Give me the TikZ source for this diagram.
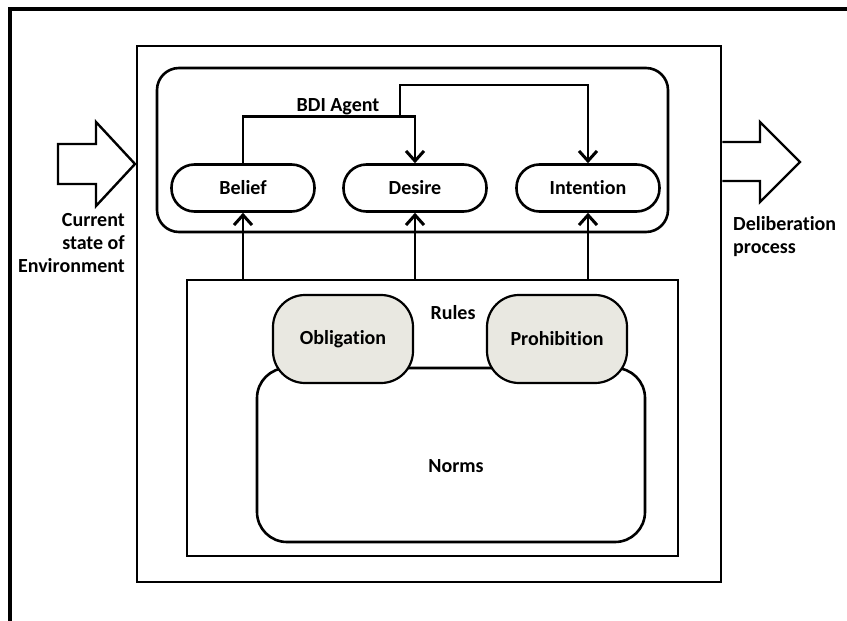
\documentclass[tikz,border=0pt]{standalone}
\usepackage{fontspec}
\setmainfont{Carlito}[Ligatures=NoCommon]
\usetikzlibrary{arrows.meta}
\begin{document}
\begin{tikzpicture}[x=1pt,y=-1pt,
  txt/.style={font=\bfseries\fontsize{20}{23}\selectfont, inner sep=0pt},
  frame/.style={draw, line width=2.8pt, inner sep=0pt},
  pill/.style={draw, line width=2.6pt, rounded corners=23pt, minimum width=143pt, minimum height=47pt, inner sep=0pt, font=\bfseries\fontsize{20}{23}\selectfont},
  rulebox/.style={draw, line width=2.2pt, rounded corners=32pt, fill=rulefill, minimum width=140pt, minimum height=88pt, inner sep=0pt, font=\bfseries\fontsize{20}{23}\selectfont},
  arr/.style={line width=2.8pt, -{Straight Barb[length=10pt,width=18pt,line width=3pt]}},
  block/.style={draw, line width=2.4pt, line join=miter}]
\definecolor{rulefill}{HTML}{E9E8E1}
\useasboundingbox (0,0) rectangle (847,621);
% outer frame (open on right and bottom)
\draw[line width=3.2pt] (10,621) -- (10,9) -- (847,9);
% main system box
\node[frame, minimum width=584pt, minimum height=536pt] (sys) at (429,314) {};
% BDI agent box
\node[frame, line width=2.6pt, rounded corners=22pt, minimum width=511pt, minimum height=164pt] (bdi) at (412.5,150) {};
\node[txt] (bdilbl) at (338,107) {BDI Agent};
\node[pill] (belief) at (243,188) {Belief};
\node[pill] (desire) at (415,188) {Desire};
\node[pill] (intention) at (588,188) {Intention};
% rules box
\node[frame, minimum width=491pt, minimum height=276pt] (rules) at (432.5,418) {};
\node[txt] (ruleslbl) at (453,313) {Rules};
\node[frame, line width=2.6pt, rounded corners=30pt, minimum width=388pt, minimum height=174pt] (norms) at (451,455) {};
\node[txt] (normslbl) at (456,466) {Norms};
\node[rulebox] (oblig) at (343,339) {Obligation};
\node[rulebox] (prohib) at (557,339) {Prohibition};
% connectors inside the agent
\coordinate (j) at (400,118);
\draw[arr] (belief.north) -- ++(0,-47) -| (desire.north);
\draw[arr] (j) -- ++(0,-33) -| (intention.north);
% rules to agent components
\draw[arr] (belief.south |- rules.north) -- (belief.south);
\draw[arr] (desire.south |- rules.north) -- (desire.south);
\draw[arr] (intention.south |- rules.north) -- (intention.south);
% input block arrow
\draw[block] (58,144) -- (96,144) -- (96,122) -- (135,164) -- (96,206) -- (96,184) -- (58,184) -- cycle;
\node[txt, anchor=north east, align=right] (envlbl) at (125,213) {Current\\state of\\Environment};
% output block arrow
\draw[block] (sys.east |- 0,142) -- (760,142) -- (760,122) -- (800,162) -- (760,202) -- (760,181) -- (sys.east |- 0,181);
\node[txt, anchor=north west, align=left] (dellbl) at (733,216) {Deliberation\\process};
\end{tikzpicture}
\end{document}
